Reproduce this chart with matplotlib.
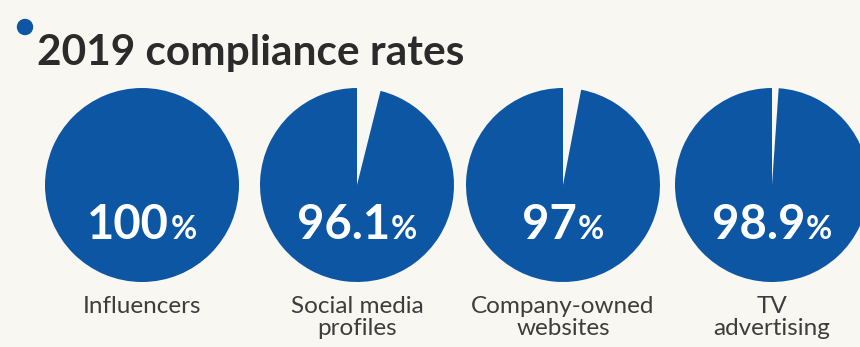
import matplotlib
matplotlib.use("Agg")
import matplotlib.pyplot as plt
from matplotlib.patches import Circle

title = "2019 compliance rates"
categories = ["Influencers", "Social media\nprofiles", "Company-owned\nwebsites", "TV\nadvertising"]
values = [100, 96.1, 97, 98.9]
value_labels = ["100", "96.1", "97", "98.9"]

BLUE = "#0d56a3"
BG = "#f8f7f1"
W, H = 860, 347

fig = plt.figure(figsize=(W / 100, H / 100), dpi=100, facecolor=BG)
ax = fig.add_axes([0, 0, 1, 1])
ax.set_facecolor(BG)

centers_x = [142, 357, 563, 772]
cy = H - 185
radius = 97

for cx, v in zip(centers_x, values):
    ax.pie([100 - v, v], colors=[BG, BLUE], startangle=90, counterclock=False,
           center=(cx, cy), radius=radius, frame=True,
           wedgeprops=dict(linewidth=0))
ax.set_xlim(0, W)
ax.set_ylim(0, H)
ax.set_aspect("equal")
ax.axis("off")

# title and dot
ax.add_patch(Circle((25, H - 27), 7.5, color=BLUE, zorder=5))
ax.text(37, H - 65, title, fontsize=30.5, fontweight="bold", family="Lato",
        color="#2b2b2b", ha="left", va="baseline")

fig.canvas.draw()
renderer = fig.canvas.get_renderer()

for cx, lab in zip(centers_x, value_labels):
    t1 = ax.text(0, 0, lab, fontsize=34, fontweight="bold", family="Lato",
                 color="white", ha="left", va="baseline")
    t2 = ax.text(0, 0, "%", fontsize=23, fontweight="bold", family="Lato",
                 color="white", ha="left", va="baseline")
    w1 = t1.get_window_extent(renderer).width
    w2 = t2.get_window_extent(renderer).width
    total = w1 + w2 + 1
    x0 = cx - total / 2
    t1.set_position((x0, H - 239))
    t2.set_position((x0 + w1 + 1, H - 239))

for cx, cat in zip(centers_x, categories):
    ax.text(cx, H - 296, cat, fontsize=17.5, family="Lato", color="#3d3d3d",
            ha="center", va="top", linespacing=1.08)

fig.savefig("out.png", dpi=100, facecolor=BG)
